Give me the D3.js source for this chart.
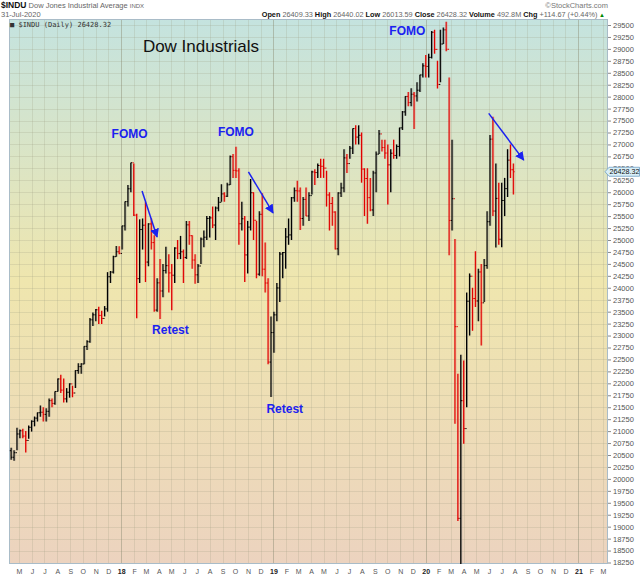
<!DOCTYPE html>
<html>
<head>
<meta charset="utf-8">
<script src="https://cdn.jsdelivr.net/npm/d3@7"></script>
<style>
  body { margin: 0; background: #fff; }
  svg { display: block; font-family: Arial, "Liberation Sans", sans-serif; }
</style>
</head>
<body>
<svg id="chart" width="640" height="576"></svg>
<script>
// weekly bars, week ending on friday (first week 14-Apr-2017 .. 31-Jul-2020)
const firstWeek = "2017-04-14";
const lastWeek = "2020-07-31";
const firstOpen = 20590;

const closes = [
  // 2017
  20453, 20548, 20940, 21007, 20897, 20804, 21080, 21206, 21272, 21384, 21395, 21350, 21414,
  21638, 21580, 21830, 22092, 21858, 21675, 21814, 21988, 21798, 22268, 22350, 22405, 22774,
  22871, 23329, 23434, 23539, 23422, 23358, 23558, 24231, 24329, 24651, 24754, 24719,
  // 2018
  25295, 25803, 26072, 26617, 25521, 24191, 25219, 25310, 24538, 25336, 24946, 23533, 24103,
  23933, 24360, 24463, 24311, 24263, 24831, 24715, 24753, 24635, 25317, 25090, 24581, 24271,
  24456, 25019, 25058, 25451, 25463, 25313, 25669, 25790, 25965, 25917, 26155, 26744, 26458,
  26447, 25340, 25444, 24688, 25270, 25989, 25413, 24285, 25538, 24389, 24100, 22445, 23062,
  // 2019
  23433, 23996, 24706, 24737, 25064, 25106, 25883, 26031, 26026, 25450, 25849, 25502, 25929,
  26425, 26412, 26559, 26543, 26505, 25942, 25764, 25585, 24815, 25984, 26090, 26719, 26600,
  26922, 27332, 27154, 27192, 26485, 26287, 25886, 25629, 26403, 26797, 27220, 26935, 26820,
  26573, 26817, 26770, 26958, 27347, 27681, 28005, 27876, 28051, 28015, 28135, 28455, 28645,
  // 2020
  28634, 28823, 29348, 28990, 28256, 29102, 29398, 28992, 25409, 25864, 23186, 19174, 21637,
  21053, 23719, 24242, 23775, 23724, 24331, 23685, 24465, 25383, 27111, 25606, 25871, 25016,
  25827, 26075, 26672, 26470, 26428
];

const highs = [
  // 2017
  20650, 20600, 21070, 21033, 21050, 21000, 21115, 21225, 21305, 21392, 21535, 21500, 21480,
  21681, 21681, 21830, 22100, 22179, 22100, 21900, 22000, 21950, 22275, 22419, 22420, 22777,
  22900, 23368, 23485, 23557, 23602, 23520, 23617, 24327, 24350, 24668, 24876, 24871,
  // 2018
  25300, 25804, 26153, 26617, 26600, 25550, 25432, 25450, 25800, 25350, 25450, 25100, 24200,
  24600, 24500, 24858, 24700, 24500, 24850, 25000, 25086, 24800, 25400, 25400, 25100, 24700,
  24500, 25050, 25200, 25500, 25500, 25700, 25700, 25900, 26167, 26000, 26200, 26770, 26800,
  26951, 26500, 25800, 25500, 25400, 26277, 26000, 25400, 25600, 25980, 24950, 24200, 23400,
  // 2019
  23500, 24100, 24750, 24750, 25250, 25450, 25900, 26100, 26241, 26100, 25900, 26100, 26000,
  26450, 26480, 26600, 26700, 26700, 26450, 26000, 25900, 25600, 26000, 26200, 26900, 26800,
  26966, 27333, 27400, 27400, 27250, 26500, 26500, 26300, 26450, 26850, 27300, 27100, 27100,
  27000, 26900, 27100, 27000, 27350, 27700, 28010, 28100, 28175, 28100, 28300, 28460, 28701,
  // 2020
  28872, 28900, 29373, 29400, 28750, 29400, 29450, 29568, 28402, 27100, 25020, 22200, 22600,
  22480, 23900, 24300, 24000, 24764, 24400, 24500, 24600, 25600, 27200, 27580, 26600, 26200,
  26200, 26300, 26900, 27000, 26600
];

const lows = [
  // 2017
  20400, 20379, 20600, 20850, 20850, 20553, 20840, 20990, 21100, 21200, 21300, 21200, 21200,
  21300, 21500, 21550, 21830, 21800, 21600, 21600, 21700, 21709, 21900, 22200, 22200, 22400,
  22700, 22850, 23200, 23300, 23240, 23242, 23400, 23500, 24100, 24300, 24650, 24700,
  // 2018
  24800, 25200, 25700, 26000, 25500, 23360, 24100, 24800, 24120, 24450, 24800, 23500, 23500,
  23344, 23800, 24300, 23900, 23531, 24100, 24600, 24600, 24100, 24600, 24900, 24400, 24084,
  24100, 24500, 24850, 25000, 25050, 25250, 25000, 25600, 25800, 25800, 25900, 26150, 26300,
  26300, 24900, 25200, 24122, 24300, 25200, 25000, 24200, 24250, 24242, 23900, 22400, 21712,
  // 2019
  22638, 23300, 23700, 24200, 24400, 24900, 25000, 25800, 25800, 25208, 25300, 25500, 25400,
  25950, 26150, 26300, 26300, 26300, 25700, 25200, 25300, 24800, 24680, 25900, 26000, 26400,
  26700, 26800, 27000, 27000, 26200, 25500, 25340, 25600, 25500, 26000, 26800, 26850, 26700,
  25743, 26000, 26700, 26700, 26750, 27300, 27600, 27800, 27800, 27325, 27900, 28100, 28400,
  // 2020
  28400, 28400, 28800, 28900, 28170, 28300, 29100, 28950, 24681, 25200, 21154, 19121, 18214,
  20735, 21500, 23000, 23100, 23600, 23300, 22790, 23700, 24400, 25300, 25500, 24843, 24900,
  24850, 25500, 25900, 26300, 25950
];

const yTicks = d3.range(18250, 29501, 250);
const lastClose = 26428.32;

// text notes and arrows (date, value)
const notes = [
  { text: "FOMO",   date: "2018-01-21", value: 27133 },
  { text: "FOMO",   date: "2018-10-03", value: 27181 },
  { text: "FOMO",   date: "2019-11-18", value: 29290 },
  { text: "Retest", date: "2018-04-29", value: 23026 },
  { text: "Retest", date: "2019-01-28", value: 21371 }
];
const arrows = [
  { from: ["2018-02-20", 26025], to: ["2018-03-28", 25065] },
  { from: ["2018-11-02", 26427], to: ["2018-12-31", 25568] },
  { from: ["2020-05-31", 27650], to: ["2020-08-23", 26672] }
];

const plot = { left: 9, right: 608, top: 19, bottom: 564 };
const parse = d3.timeParse("%Y-%m-%d");

const x = d3.scaleTime()
  .domain([parse("2017-04-07"), parse("2021-03-13")])
  .range([plot.left, plot.right]);
const y = d3.scaleLinear()
  .domain([18250, 29500])
  .range([562.5, 25]);

const weeks = d3.timeFriday.range(parse(firstWeek), d3.timeDay.offset(parse(lastWeek), 1));
const bars = closes.map((c, i) => ({
  date: d3.timeDay.offset(weeks[i], -2), // mid-week
  open: i === 0 ? firstOpen : closes[i - 1],
  high: highs[i],
  low: lows[i],
  close: c,
  up: i === 0 ? true : c >= closes[i - 1]
}));

const svg = d3.select("#chart");

// background gradient
const defs = svg.append("defs");
const grad = defs.append("linearGradient").attr("id", "bg")
  .attr("x1", 0).attr("y1", 0).attr("x2", 0).attr("y2", 1);
grad.append("stop").attr("offset", "0%").attr("stop-color", "#c4e3df");
grad.append("stop").attr("offset", "48%").attr("stop-color", "#efe6ae");
grad.append("stop").attr("offset", "100%").attr("stop-color", "#ecd3bf");
defs.append("clipPath").attr("id", "clip").append("rect")
  .attr("x", plot.left).attr("y", plot.top)
  .attr("width", plot.right - plot.left).attr("height", plot.bottom - plot.top);

svg.append("rect")
  .attr("x", plot.left).attr("y", plot.top)
  .attr("width", plot.right - plot.left).attr("height", plot.bottom - plot.top)
  .attr("fill", "url(#bg)");

// grid
const grid = svg.append("g").attr("clip-path", "url(#clip)");
grid.selectAll(".hg").data(yTicks).join("line")
  .attr("x1", plot.left).attr("x2", plot.right)
  .attr("y1", d => Math.round(y(d)) + 0.5).attr("y2", d => Math.round(y(d)) + 0.5)
  .attr("stroke", "#9a9a80").attr("stroke-opacity", 0.22);
const months = d3.timeMonth.range(parse("2017-04-01"), parse("2021-03-14"));
grid.selectAll(".vg").data(months).join("line")
  .attr("x1", d => Math.round(x(d)) + 0.5).attr("x2", d => Math.round(x(d)) + 0.5)
  .attr("y1", plot.top).attr("y2", plot.bottom)
  .attr("stroke", d => d.getMonth() === 0 ? "#8a8a70" : "#9a9a80")
  .attr("stroke-opacity", d => d.getMonth() === 0 ? 0.45 : 0.22);

// border
svg.append("rect")
  .attr("x", plot.left + 0.5).attr("y", plot.top + 0.5)
  .attr("width", plot.right - plot.left - 1).attr("height", plot.bottom - plot.top - 1)
  .attr("fill", "none").attr("stroke", "#a9bcc8");

// OHLC bars
const barG = svg.append("g").attr("clip-path", "url(#clip)");
const col = d => d.up ? "#000" : "#e00000";
const halo = d => d.up ? "#777" : "#f08070";
barG.selectAll(".halo").data(bars).join("line")
  .attr("x1", d => x(d.date) + 0.8).attr("x2", d => x(d.date) + 0.8)
  .attr("y1", d => y(d.high)).attr("y2", d => y(d.low))
  .attr("stroke", halo).attr("stroke-width", 1.2).attr("stroke-opacity", 0.55);
barG.selectAll(".hl").data(bars).join("line")
  .attr("x1", d => x(d.date)).attr("x2", d => x(d.date))
  .attr("y1", d => y(d.high)).attr("y2", d => y(d.low))
  .attr("stroke", col).attr("stroke-width", 1.2);
barG.selectAll(".op").data(bars).join("line")
  .attr("x1", d => x(d.date) - 1.3).attr("x2", d => x(d.date))
  .attr("y1", d => y(d.open)).attr("y2", d => y(d.open))
  .attr("stroke", col).attr("stroke-width", 1);
barG.selectAll(".cl").data(bars).join("line")
  .attr("x1", d => x(d.date)).attr("x2", d => x(d.date) + 1.3)
  .attr("y1", d => y(d.close)).attr("y2", d => y(d.close))
  .attr("stroke", col).attr("stroke-width", 1);

// y axis on the right
const yAxis = svg.append("g")
  .attr("transform", `translate(${plot.right},0)`)
  .call(d3.axisRight(y).tickValues(yTicks).tickSize(3).tickPadding(2).tickFormat(d3.format("d")));
yAxis.select(".domain").remove();
yAxis.selectAll("line").attr("stroke", "#888");
yAxis.selectAll("text").attr("font-size", 7.5).attr("fill", "#555")
  .attr("font-family", "Arial, 'Liberation Sans', sans-serif");

// x axis month letters
const xAxis = svg.append("g")
  .attr("transform", `translate(0,${plot.bottom})`)
  .call(d3.axisBottom(x).tickValues(months.filter(d => x(d) > plot.left + 5))
    .tickSize(0).tickPadding(5)
    .tickFormat(d => d.getMonth() === 0 ? d3.timeFormat("%y")(d) : d3.timeFormat("%b")(d)[0]));
xAxis.select(".domain").remove();
xAxis.selectAll("text")
  .attr("font-size", 7)
  .attr("font-family", "Arial, 'Liberation Sans', sans-serif")
  .attr("font-weight", d => d.getMonth() === 0 ? "bold" : "normal")
  .attr("fill", d => d.getMonth() === 0 ? "#222" : "#555");

// last price marker
const yc = y(lastClose);
svg.append("path")
  .attr("d", `M605,${yc} L609,${yc - 4.5} L639.5,${yc - 4.5} L639.5,${yc + 4.5} L609,${yc + 4.5} Z`)
  .attr("fill", "#d8eef7").attr("stroke", "#6fa0c4").attr("stroke-width", 0.8);
svg.append("text").attr("x", 609.5).attr("y", yc + 2.6)
  .attr("font-size", 7.2).attr("fill", "#111").text(lastClose.toFixed(2));

// header
const head = svg.append("g").attr("font-family", "Arial, 'Liberation Sans', sans-serif");
const t1 = head.append("text").attr("x", 1).attr("y", 8);
t1.append("tspan").attr("font-weight", "bold").attr("font-size", 8.5).attr("fill", "#111").text("$INDU");
t1.append("tspan").attr("font-size", 7.5).attr("fill", "#666").text(" Dow Jones Industrial Average ");
t1.append("tspan").attr("font-size", 6).attr("fill", "#666").text("INDX");
head.append("text").attr("x", 1).attr("y", 17).attr("font-size", 7.5).attr("fill", "#666").text("31-Jul-2020");
head.append("text").attr("x", 608).attr("y", 8).attr("text-anchor", "end")
  .attr("font-size", 7.5).attr("fill", "#777").text("\u00A9StockCharts.com");

const quote = [["Open", "26409.33"], ["High", "26440.02"], ["Low", "26013.59"], ["Close", "26428.32"],
  ["Volume", "492.8M"], ["Chg", "+114.67 (+0.44%)"]];
const t2 = head.append("text").attr("x", 605).attr("y", 17).attr("text-anchor", "end").attr("font-size", 7.3);
quote.forEach(([k, v], i) => {
  t2.append("tspan").attr("font-weight", "bold").attr("fill", "#111").text((i ? " " : "") + k + " ");
  t2.append("tspan").attr("fill", "#666").text(v);
});
t2.append("tspan").attr("fill", "#080").attr("font-size", 6).text(" \u25B2");

// legend inside the plot
svg.append("text").attr("x", 10).attr("y", 26.5)
  .attr("font-family", "'DejaVu Sans Mono', monospace").attr("font-size", 7).attr("fill", "#333")
  .text("\u25A0 $INDU (Daily) 26428.32");

// title
svg.append("text").attr("x", 201).attr("y", 52).attr("text-anchor", "middle")
  .attr("font-size", 17).attr("fill", "#111").text("Dow Industrials");

// notes
svg.append("g").selectAll("text").data(notes).join("text")
  .attr("x", d => x(parse(d.date))).attr("y", d => y(d.value))
  .attr("text-anchor", "middle").attr("font-weight", "bold").attr("font-size", 12)
  .attr("fill", "#1b22f0").text(d => d.text);

// arrows
defs.append("marker").attr("id", "head")
  .attr("viewBox", "0 0 10 10").attr("refX", 9).attr("refY", 5)
  .attr("markerWidth", 9).attr("markerHeight", 9).attr("markerUnits", "userSpaceOnUse")
  .attr("orient", "auto")
  .append("path").attr("d", "M0,0 L10,5 L0,10 Z").attr("fill", "#1b22f0");
svg.append("g").selectAll("line").data(arrows).join("line")
  .attr("x1", d => x(parse(d.from[0]))).attr("y1", d => y(d.from[1]))
  .attr("x2", d => x(parse(d.to[0]))).attr("y2", d => y(d.to[1]))
  .attr("stroke", "#1b22f0").attr("stroke-width", 1.5)
  .attr("marker-end", "url(#head)");
</script>
</body>
</html>
